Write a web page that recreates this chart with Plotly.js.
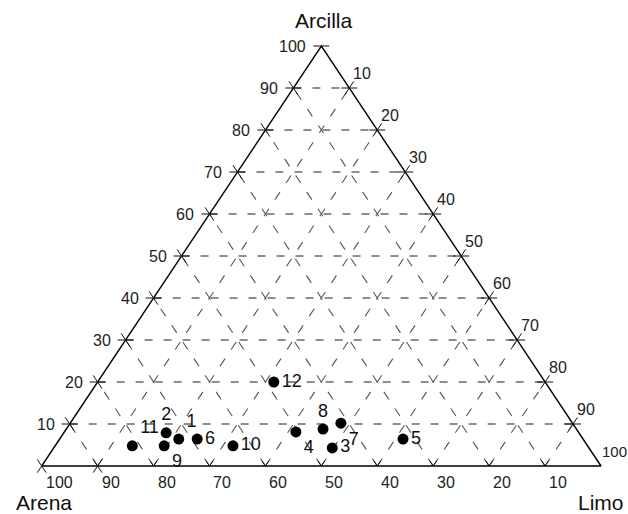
<!DOCTYPE html>
<html>
<head>
<meta charset="utf-8">
<script src="https://cdn.plot.ly/plotly-3.0.1.min.js"></script>
<style>html,body{margin:0;padding:0;background:#fff;}#chart{width:628px;height:514px;}</style>
</head>
<body>
<div id="chart"></div>
<script>
// ---- data ----
const pointLabels = ['1','2','3','4','5','6','7','8','9','10','11','12'];
const arena   = [72.3, 73.8, 45.9, 50.5, 32.2, 69.0, 41.4, 45.3, 75.7, 63.4, 81.4, 48.5];
const limo    = [21.3, 18.3, 49.8, 41.4, 61.4, 24.6, 48.4, 45.9, 19.5, 31.8, 13.8, 31.5];
const arcilla = [ 6.4,  7.9,  4.3,  8.1,  6.4,  6.4, 10.2,  8.8,  4.8,  4.8,  4.8, 20.0];
const gridValues = [10, 20, 30, 40, 50, 60, 70, 80, 90];
const tickLabels = ['10','20','30','40','50','60','70','80','90','100'];
const axisTitles = {top: 'Arcilla', left: 'Arena', right: 'Limo'};

// label placement per point (style)
const labelPos = ['top right','top center','middle right','bottom right','middle right','middle right',
                  'bottom right','top center','bottom right','middle right','top right','middle right'];

// ---- layout geometry ----
const W = 628, H = 514;
const leftPx = 41.7, rightPx = 601, basePx = 466, apexPx = 46;
const sx = (rightPx - leftPx) / 100;   // px per X unit
const sy = (basePx - apexPx) / 100;    // px per Y unit
const xr = [-leftPx / sx, (W - leftPx) / sx];
const yr = [-(H - basePx) / sy, basePx / sy];

// ternary -> cartesian
function tx(sand, silt, clay) { const s = sand + silt + clay; return (silt + clay / 2) / s * 100; }
function ty(sand, silt, clay) { const s = sand + silt + clay; return clay / s * 100; }

// grid lines
const hxs = [], hys = [], dx = [], dy = [];
gridValues.forEach(v => {
  hxs.push(tx(100 - v, 0, v), tx(0, 100 - v, v), null);
  hys.push(ty(100 - v, 0, v), ty(0, 100 - v, v), null);
  dx.push(tx(v, 100 - v, 0), tx(v, 0, 100 - v), null);
  dy.push(ty(v, 100 - v, 0), ty(v, 0, 100 - v), null);
  dx.push(tx(100 - v, v, 0), tx(0, v, 100 - v), null);
  dy.push(ty(100 - v, v, 0), ty(0, v, 100 - v), null);
});

// tick marks
const L = 8;
const hx = L / sx;
const slen = Math.hypot(0.5 * sx, sy);
const t = L / slen;
const kx = [], ky = [];
function seg(x0, y0, ddx, ddy) { kx.push(x0 - ddx, x0 + ddx, null); ky.push(y0 - ddy, y0 + ddy, null); }
function half(x0, y0, ddx, ddy) { kx.push(x0, x0 + ddx, null); ky.push(y0, y0 + ddy, null); }
const allVals = gridValues.concat([100]);
allVals.forEach(v => {
  const lx = tx(100 - v, 0, v), ly = ty(100 - v, 0, v);
  seg(lx, ly, hx, 0);
  if (v < 100) seg(lx, ly, 0.5 * t, -t);
  if (v < 100) {
    const rx = tx(0, v, 100 - v), ry = ty(0, v, 100 - v);
    seg(rx, ry, hx, 0);
    seg(rx, ry, 0.5 * t, t);
  }
  const bx = tx(v, 100 - v, 0), by = 0;
  if (v >= 90) { seg(bx, by, 0.5 * t, -t); seg(bx, by, 0.5 * t, t); }
  else { half(bx, by, -0.5 * t * 0.8, t * 0.8); half(bx, by, 0.5 * t * 0.8, t * 0.8); }
});
half(100, 0, -0.5 * t * 0.8, t * 0.8);

const px = pointLabels.map((_, i) => tx(arena[i], limo[i], arcilla[i]));
const py = pointLabels.map((_, i) => ty(arena[i], limo[i], arcilla[i]));

const traces = [
  {x: hxs, y: hys, mode: 'lines', line: {color: '#6a6a6a', width: 1.3, dash: '8px,11px'}, hoverinfo: 'skip'},
  {x: dx, y: dy, mode: 'lines', line: {color: '#555', width: 1.1, dash: '9px,11px'}, hoverinfo: 'skip'},
  {x: [0, 50, 100, 0], y: [0, 100, 0, 0], mode: 'lines', line: {color: '#000', width: 1.4}, hoverinfo: 'skip'},
  {x: kx, y: ky, mode: 'lines', line: {color: '#111', width: 1}, hoverinfo: 'skip'},
  {x: px, y: py, mode: 'markers+text', text: pointLabels, textposition: labelPos,
   marker: {color: '#000', size: 11}, textfont: {family: 'Liberation Sans, Arial, sans-serif', size: 18, color: '#111'}}
];

const fontTick = {family: 'Liberation Sans, Arial, sans-serif', size: 16, color: '#222'};
const fontTickSmall = {family: 'Liberation Sans, Arial, sans-serif', size: 15, color: '#222'};
const fontTitle = {family: 'Liberation Sans, Arial, sans-serif', size: 21, color: '#111'};
const ann = [];
allVals.forEach((v, i) => {
  const lbl = tickLabels[i];
  ann.push({x: tx(100 - v, 0, v), y: ty(100 - v, 0, v), text: lbl, showarrow: false, xanchor: 'right', yanchor: 'middle', xshift: -13, font: fontTick});
  const last = (v === 100);
  ann.push({x: tx(0, v, 100 - v), y: ty(0, v, 100 - v), text: lbl, showarrow: false, xanchor: 'left', yanchor: 'middle', xshift: last ? -1 : 2, yshift: 15, font: last ? fontTickSmall : fontTick});
  ann.push({x: tx(v, 100 - v, 0), y: 0, text: lbl, showarrow: false, xanchor: 'left', yanchor: 'middle', xshift: 2, yshift: -16, font: fontTick});
});
ann.push({x: 50, y: 100, text: axisTitles.top, showarrow: false, xanchor: 'center', yanchor: 'middle', xshift: 2, yshift: 26, font: fontTitle});
ann.push({x: 0, y: 0, text: axisTitles.left, showarrow: false, xanchor: 'center', yanchor: 'middle', xshift: 2, yshift: -36, font: fontTitle});
ann.push({x: 100, y: 0, text: axisTitles.right, showarrow: false, xanchor: 'center', yanchor: 'middle', xshift: 0, yshift: -36, font: fontTitle});

const layout = {
  width: W, height: H, margin: {l: 0, r: 0, t: 0, b: 0},
  paper_bgcolor: '#fff', plot_bgcolor: '#fff', showlegend: false,
  xaxis: {range: xr, visible: false, fixedrange: true},
  yaxis: {range: yr, visible: false, fixedrange: true},
  annotations: ann
};
Plotly.newPlot('chart', traces, layout, {displayModeBar: false, staticPlot: true});
</script>
</body>
</html>
